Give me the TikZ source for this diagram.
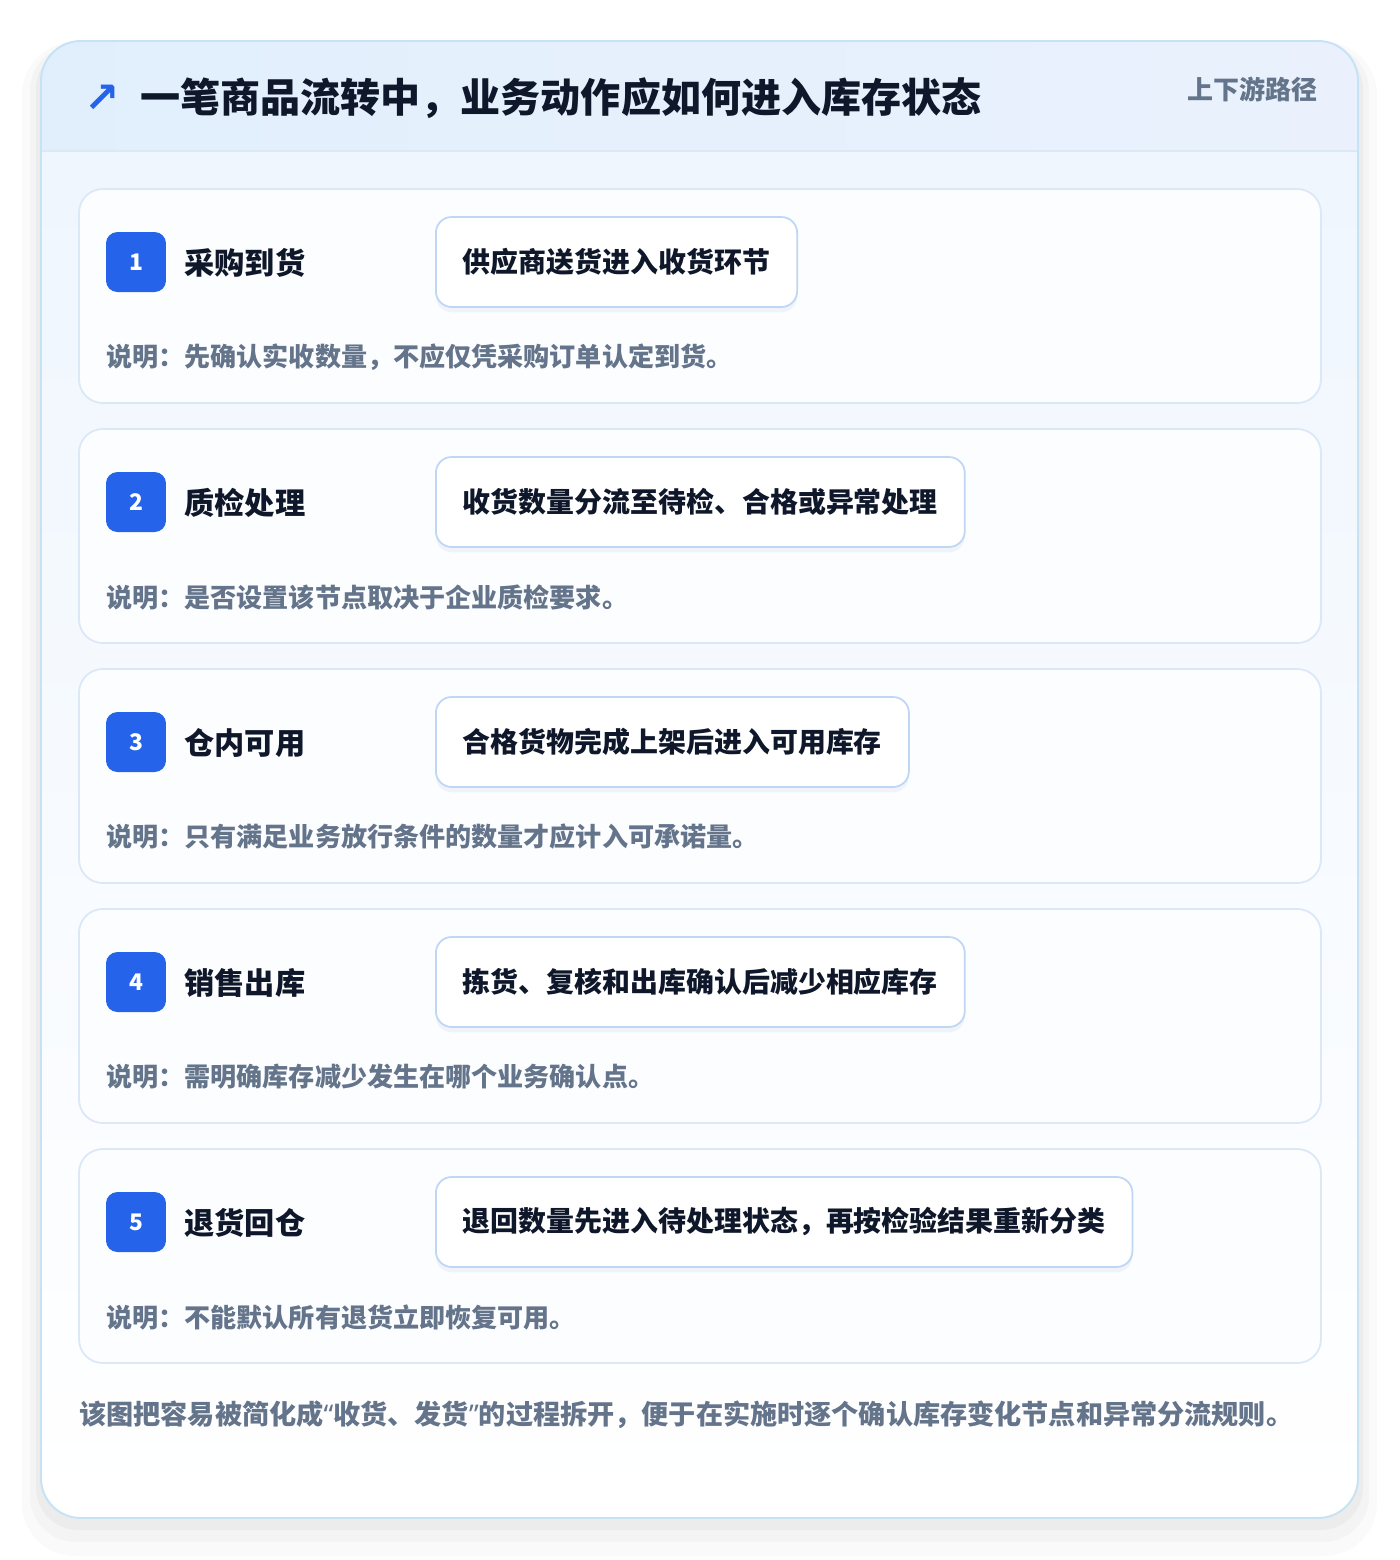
\documentclass[tikz,border=0pt]{standalone}
\usepackage{fontspec}
\setmainfont{Noto Sans CJK SC}
\newfontfamily\symfont{DejaVu Sans}
\newfontfamily\latinfont{Noto Sans}
\usetikzlibrary{shadows}

\definecolor{badgeblue}{HTML}{2563EB}
\definecolor{ink}{HTML}{0F172A}
\definecolor{slate}{HTML}{64748B}
\definecolor{cardline}{HTML}{DAE8F7}
\definecolor{boxline}{HTML}{BFD7F4}
\definecolor{outerline}{HTML}{C6E2F5}
\definecolor{headleft}{HTML}{E1EFFC}
\definecolor{headright}{HTML}{EAF1FD}
\definecolor{bodytop}{HTML}{EFF6FE}
\definecolor{cardfill}{HTML}{FCFDFF}

\tikzset{
  stepcard/.style={draw=cardline, fill=cardfill, rounded corners=13.5pt, line width=1pt},
  badge/.style={fill=badgeblue, rounded corners=6.5pt, minimum size=1.2cm, inner sep=0pt, text=white, font=\bfseries\fontsize{13}{13}\selectfont},
  steptitle/.style={anchor=west, inner sep=0pt, text=ink, font=\bfseries\fontsize{17.2}{17.2}\selectfont},
  actionbox/.style={anchor=west, draw=boxline, fill=white, rounded corners=9pt, line width=1pt, minimum height=1.8cm, inner xsep=0.54cm, inner ysep=0pt, text=ink, font=\bfseries\fontsize{15.9}{15.9}\selectfont,
    drop shadow={shadow xshift=0pt, shadow yshift=-3pt, opacity=0.07, fill=badgeblue!40!gray}},
  note/.style={anchor=west, inner sep=0pt, text=slate, font=\bfseries\fontsize{14.85}{14.85}\selectfont},
}

\begin{document}
\begin{tikzpicture}[x=0.02cm, y=-0.02cm]
\useasboundingbox (0,0) rectangle (1400,1560);
\fill[white] (0,0) rectangle (1400,1560);

% soft halo round the sheet
\fill[black, opacity=0.02, rounded corners=30pt] (22,42) rectangle (1377,1556);
\fill[black, opacity=0.025, rounded corners=26pt] (30,45) rectangle (1369,1542);
\fill[black, opacity=0.03, rounded corners=24pt] (36,47) rectangle (1363,1530);

% sheet and header band
\fill[white, rounded corners=22.7pt] (41,41) rectangle (1358,1518);
\begin{scope}
  \clip[rounded corners=22.7pt] (41,41) rectangle (1358,1518);
  \shade[top color=bodytop, bottom color=white] (41,151) rectangle (1358,1518);
  \shade[left color=headleft, right color=headright] (41,41) rectangle (1358,151);
\end{scope}
\draw[cardline, line width=1pt] (41,151) -- (1358,151);
\draw[outerline, line width=1.1pt, rounded corners=22.7pt] (41,41) rectangle (1358,1518);

\node[anchor=center, inner sep=0pt, text=badgeblue, font=\symfont\bfseries\fontsize{24}{24}\selectfont] (icon) at (102,99) {↗};
\node[anchor=west, inner sep=0pt, text=ink, font=\bfseries\fontsize{22.8}{22.8}\selectfont] (title) at (140,98) {一笔商品流转中，业务动作应如何进入库存状态};
\node[anchor=east, inner sep=0pt, text=slate, font=\bfseries\fontsize{14.8}{14.8}\selectfont] (tag) at (1318,89) {上下游路径};

% 1
\draw[stepcard] (79,189) rectangle (1321,403);
\node[badge] (b1) at (136,262) {1};
\node[steptitle] (t1) at (184,263) {采购到货};
\node[actionbox] (a1) at (435,262) {供应商送货进入收货环节};
\node[note] (n1) at (106,357) {说明：先确认实收数量，不应仅凭采购订单认定到货。};

% 2
\draw[stepcard] (79,429) rectangle (1321,643);
\node[badge] (b2) at (136,502) {2};
\node[steptitle] (t2) at (184,503) {质检处理};
\node[actionbox] (a2) at (435,502) {收货数量分流至待检、合格或异常处理};
\node[note] (n2) at (106,597) {说明：是否设置该节点取决于企业质检要求。};

% 3
\draw[stepcard] (79,669) rectangle (1321,883);
\node[badge] (b3) at (136,742) {3};
\node[steptitle] (t3) at (184,743) {仓内可用};
\node[actionbox] (a3) at (435,742) {合格货物完成上架后进入可用库存};
\node[note] (n3) at (106,837) {说明：只有满足业务放行条件的数量才应计入可承诺量。};

% 4
\draw[stepcard] (79,909) rectangle (1321,1123);
\node[badge] (b4) at (136,982) {4};
\node[steptitle] (t4) at (184,983) {销售出库};
\node[actionbox] (a4) at (435,982) {拣货、复核和出库确认后减少相应库存};
\node[note] (n4) at (106,1077) {说明：需明确库存减少发生在哪个业务确认点。};

% 5
\draw[stepcard] (79,1149) rectangle (1321,1363);
\node[badge] (b5) at (136,1222) {5};
\node[steptitle] (t5) at (184,1223) {退货回仓};
\node[actionbox] (a5) at (435,1222) {退回数量先进入待处理状态，再按检验结果重新分类};
\node[note] (n5) at (106,1317) {说明：不能默认所有退货立即恢复可用。};

\node[anchor=west, inner sep=0pt, text=slate, font=\bfseries\fontsize{15.45}{15.45}\selectfont] (foot) at (79,1415) {该图把容易被简化成{\latinfont “}收货、发货{\latinfont ”}的过程拆开，便于在实施时逐个确认库存变化节点和异常分流规则。};
\end{tikzpicture}
\end{document}
